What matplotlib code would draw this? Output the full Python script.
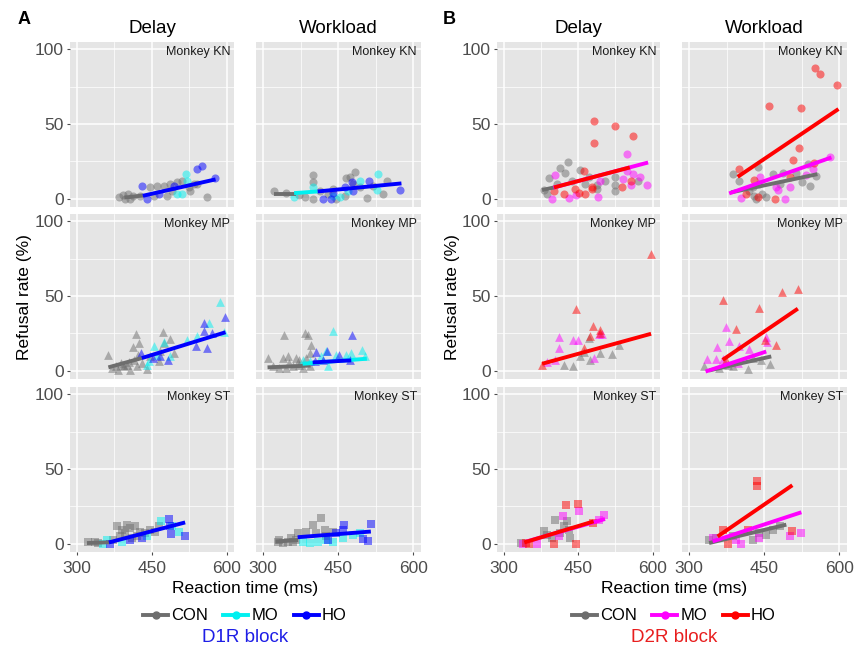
import matplotlib.pyplot as plt
from matplotlib.lines import Line2D

plt.rcParams['font.family'] = ['Liberation Sans', 'DejaVu Sans']

W, H = 856, 649

# ---------------- data (reaction time ms, refusal rate %) ----------------
# Monkey KN, D1R block
a_kn_delay_con_x = [385, 392, 397, 403, 413, 447, 460, 474, 487, 501, 511, 527, 534, 560, 480, 454, 427, 407, 524, 541, 491]
a_kn_delay_con_y = [1, 2.5, 0, 3, 2, 7.6, 8.7, 8.7, 9.8, 11, 12, 5.3, 9.8, 1.5, 2, 2, 2, 0, 7.6, 9.8, 5]
a_kn_delay_mo_x = [518, 521, 501, 511]
a_kn_delay_mo_y = [16.5, 12, 3.1, 3.1]
a_kn_delay_ho_x = [430, 541, 550, 576, 494, 440, 464]
a_kn_delay_ho_y = [8.3, 19.9, 22.1, 13.8, 8.7, 0, 3.1]
a_kn_delay_fit = [('CON', 395, 432, 0.8, 2.2), ('HO', 432, 578, 2, 13)]

a_kn_work_con_x = [399, 399, 322, 346, 372, 383, 399, 413, 429, 440, 466, 473, 483, 480, 493, 507, 520, 540, 547, 463, 446]
a_kn_work_con_y = [15.9, 11.4, 4.9, 4.2, 2.7, 0.9, 0, 5.3, 3.1, 6.5, 13.8, 14.3, 18.1, 9.8, 7.6, 0.4, 8.7, 3.1, 12, 2, 0]
a_kn_work_mo_x = [362, 399, 453, 440, 493, 529, 527, 470]
a_kn_work_mo_y = [0.9, 7.6, 0.9, 2, 12, 16.5, 5.8, 5.3]
a_kn_work_ho_x = [420, 436, 478, 512, 574, 463, 480, 440]
a_kn_work_ho_y = [0, 0, 11, 12, 6.2, 7.6, 4.9, 4.2]
a_kn_work_fit = [('CON', 322, 365, 3.5, 3.5), ('MO', 362, 409, 3.8, 4.9), ('HO', 409, 576, 4.9, 10.3)]

# Monkey KN, D2R block
b_kn_delay_con_x = [391, 414, 429, 424, 407, 454, 471, 487, 504, 524, 524, 524, 487, 571, 381, 387, 437, 464]
b_kn_delay_con_y = [13.8, 20.5, 24.6, 17.6, 9.8, 19.2, 14.3, 9.4, 12, 14.3, 9.4, 4.9, 6.5, 12, 5.8, 3.1, 12, 9.8]
b_kn_delay_mo_x = [549, 404, 397, 431, 446, 489, 541, 556, 574, 589, 549, 561, 494]
b_kn_delay_mo_y = [30, 15.8, 0, 0.4, 2.7, 1.3, 13.2, 9.4, 14.3, 9.1, 18.8, 16.5, 12]
b_kn_delay_ho_x = [482, 482, 525, 561, 461, 477, 451, 464, 444, 421, 401, 539, 557, 477]
b_kn_delay_ho_y = [51.9, 37.3, 49, 41.8, 18.8, 7.6, 4.2, 3.1, 6.5, 3.1, 5.3, 7.6, 12, 6.5]
b_kn_delay_fit = [('CON', 377, 401, 5.8, 7.6), ('MO', 400, 591, 7.5, 24.3), ('HO', 401, 554, 7.6, 21)]

b_kn_work_con_x = [387, 400, 437, 427, 440, 454, 467, 487, 514, 526, 541, 554, 537, 434, 420, 481, 445, 430]
b_kn_work_con_y = [16.5, 12, 21, 7.6, 9.8, 0.9, 16.5, 17.6, 17.6, 11, 8.3, 15.4, 23.2, 0, 5.3, 9.8, 3, 2]
b_kn_work_mo_x = [582, 547, 404, 442, 474, 502, 491, 533, 477]
b_kn_work_mo_y = [27.7, 19.9, 0.4, 14.7, 7.6, 7.6, 0, 16, 5.8]
b_kn_work_ho_x = [551, 562, 596, 459, 524, 519, 507, 400, 430, 437, 471, 414, 501, 549]
b_kn_work_ho_y = [87.4, 83.6, 76.2, 62.2, 60.8, 33.8, 25.9, 19.9, 12.5, 1.3, 0, 3.1, 14.3, 24.3]
b_kn_work_fit = [('CON', 384, 556, 4.3, 16.5), ('MO', 380, 584, 3.6, 27.7), ('HO', 397, 598, 14.7, 60.1)]

# Monkey MP, D1R block
a_mp_delay_con_x = [363, 418, 425, 412, 423, 472, 474, 487, 494, 467, 447, 440, 420, 400, 383, 407, 393, 464, 370, 378, 388, 395, 405, 415, 430]
a_mp_delay_con_y = [10.8, 24.6, 18.6, 15.9, 10.8, 25.8, 18.6, 21.3, 11.9, 13, 9.6, 1.2, 2.9, 4.1, 0.7, 0.7, 4.1, 6.3, 2, 3.5, 5, 3, 6, 7, 5]
a_mp_delay_mo_x = [586, 564, 521, 541, 595, 474, 454, 444, 440, 487, 460]
a_mp_delay_mo_y = [45.9, 32, 20.8, 23.1, 25.8, 19, 16.4, 6.3, 4.1, 9.6, 10.8]
a_mp_delay_ho_x = [554, 597, 554, 571, 538, 561, 429, 452, 482, 467]
a_mp_delay_ho_y = [32, 35.8, 26.4, 25.3, 16.4, 15.2, 11.9, 8.5, 7, 9.6]
a_mp_delay_fit = [('CON', 363, 430, 2.3, 8.5), ('HO', 430, 598, 8.5, 25.8)]

a_mp_work_con_x = [309, 341, 383, 389, 396, 393, 339, 352, 366, 319, 332, 346, 359, 372, 379, 372, 349, 386, 393]
a_mp_work_con_y = [8.5, 23.8, 25.3, 24.2, 17.5, 11.9, 8.5, 5.2, 8.5, 2.9, 1.8, 1.8, 2.9, 4.1, 1.8, 7.4, 9.6, 8.5, 2.9]
a_mp_work_mo_x = [440, 379, 393, 416, 430, 446, 466, 476, 497, 503, 426]
a_mp_work_mo_y = [26.9, 7.4, 6.3, 9.6, 2.9, 10.8, 10.8, 11.9, 14.1, 9.6, 13]
a_mp_work_ho_x = [478, 405, 428, 452, 473, 419, 403]
a_mp_work_ho_y = [24.2, 12.3, 13.4, 10.8, 7, 7.4, 6.3]
a_mp_work_fit = [('CON', 309, 395, 2.3, 3.5), ('MO', 379, 507, 4.7, 8.1), ('HO', 399, 476, 5.6, 7)]

# Monkey MP, D2R block
b_mp_delay_con_x = [421, 439, 471, 453, 474, 494, 519, 533, 461]
b_mp_delay_con_y = [4, 2.9, 21.9, 9.6, 7.3, 11.8, 11.4, 17.4, 12.9]
b_mp_delay_mo_x = [411, 411, 439, 449, 387, 404, 481, 491, 497]
b_mp_delay_mo_y = [22.3, 15.2, 20.8, 20.8, 6.2, 7.3, 8.5, 24.8, 24.8]
b_mp_delay_ho_x = [597, 446, 479, 494, 474, 461, 377, 494]
b_mp_delay_ho_y = [78.2, 41.6, 29.7, 27.5, 23, 15.2, 4, 25.2]
b_mp_delay_fit = [('HO', 377, 597, 4.7, 24.8)]

b_mp_work_con_x = [330, 377, 387, 417, 462, 427, 444, 360]
b_mp_work_con_y = [2.9, 4, 2.9, 1.1, 4.7, 8.5, 7.3, 1.8]
b_mp_work_mo_x = [374, 355, 379, 335, 354, 367, 420, 454, 455, 400, 397]
b_mp_work_mo_y = [29, 15.8, 20.1, 7.8, 7.8, 7.8, 14.5, 22.5, 19.6, 16.3, 5.1]
b_mp_work_ho_x = [368, 394, 439, 486, 517, 452, 474, 374]
b_mp_work_ho_y = [47.2, 28.1, 42, 52.7, 55, 20.3, 17.4, 7.3]
b_mp_work_fit = [('CON', 340, 464, 0.2, 9.6), ('MO', 333, 454, -0.5, 12.9), ('HO', 367, 517, 7.3, 41.6)]

# Monkey ST, D1R block
a_st_delay_con_x = [323, 336, 343, 380, 390, 400, 407, 417, 427, 437, 447, 397, 387, 420, 457, 373, 410, 464]
a_st_delay_con_y = [1.1, 1.5, 0.4, 11.6, 9.4, 12.7, 10.5, 11.6, 8.2, 7.1, 9.4, 7.1, 4.9, 4.9, 8.2, 2.7, 3.8, 11.6]
a_st_delay_mo_x = [353, 468, 504, 390, 440, 490, 360]
a_st_delay_mo_y = [0, 15, 8.2, 1.5, 5.3, 11.6, 2.7]
a_st_delay_ho_x = [484, 489, 487, 516, 366, 430, 407]
a_st_delay_ho_y = [16.5, 6.7, 11.6, 5.3, 0, 3.8, 2.7]
a_st_delay_fit = [('CON', 320, 365, 0.5, 1), ('HO', 364, 517, 0.9, 14.3)]

a_st_work_con_x = [329, 339, 349, 359, 366, 369, 399, 416, 406, 423, 426, 440, 386, 332, 356]
a_st_work_con_y = [1.5, 0.4, 1.5, 0.9, 2.7, 7.1, 12.7, 17.2, 7.1, 9.4, 4.9, 8.2, 8.2, 2.7, 3.8]
a_st_work_mo_x = [379, 393, 440, 426, 480, 493, 460, 409]
a_st_work_mo_y = [1.5, 0.4, 0.9, 2.7, 6, 7.1, 3.8, 1.5]
a_st_work_ho_x = [461, 460, 515, 500, 509, 430, 446]
a_st_work_ho_y = [12.7, 9.4, 13.4, 3.1, 2.2, 2.7, 7.1]
a_st_work_fit = [('CON', 325, 370, 1.5, 2.5), ('HO', 369, 515, 4.4, 8.2)]

# Monkey ST, D2R block
b_st_delay_con_x = [404, 427, 381, 387, 414, 434, 421, 334, 397, 431]
b_st_delay_con_y = [16.1, 15, 8.3, 6, 7.2, 3.8, 11.6, 0.5, 3.8, 9.4]
b_st_delay_mo_x = [419, 452, 502, 367, 339, 411, 491]
b_st_delay_mo_y = [18.4, 21.7, 19.5, 0, 0, 4.9, 16.1]
b_st_delay_ho_x = [425, 450, 401, 446, 351, 479, 344]
b_st_delay_ho_y = [25.7, 26.9, 0, 0, 0, 13.9, 0.5]
b_st_delay_fit = [('MO', 345, 504, 1.5, 16.6), ('HO', 341, 481, 0.9, 15)]

b_st_work_con_x = [340, 354, 427, 454, 467, 481, 440, 387]
b_st_work_con_y = [2.7, 3.8, 2.7, 6, 9.4, 11.6, 7.2, 4.9]
b_st_work_mo_x = [523, 501, 404, 440, 347, 394]
b_st_work_mo_y = [7.2, 5.4, 0, 3.8, 3.8, 2.7]
b_st_work_ho_x = [435, 435, 506, 377, 417, 367]
b_st_work_ho_y = [41.9, 39, 8.7, 0, 9.4, 9.4]
b_st_work_fit = [('CON', 340, 494, 0.5, 12.8), ('MO', 347, 524, 1.6, 21.1), ('HO', 357, 506, 4.9, 39.2)]

monkeys = ['KN', 'MP', 'ST']
markers = {'KN': 'o', 'MP': '^', 'ST': 's'}
msize = {'KN': 34, 'MP': 40, 'ST': 30}
colors_a = {'CON': '#6E6E6E', 'MO': '#00F0F0', 'HO': '#0000FF'}
colors_b = {'CON': '#6E6E6E', 'MO': '#FF00FF', 'HO': '#FF0000'}

g = globals()

# ---------------- layout (pixel boxes) ----------------
rows = [(42, 207), (214, 379), (387, 552)]
cols = {'a': [(70, 234), (256, 421)], 'b': [(497, 660), (682, 847)]}

fig = plt.figure(figsize=(W / 100, H / 100), dpi=100)


def style(ax, left, bottom):
    ax.set_facecolor('#E5E5E5')
    for s in ax.spines.values():
        s.set_visible(False)
    ax.set_xlim(286, 615)
    ax.set_ylim(-5.5, 105)
    ax.set_xticks([300, 450, 600])
    ax.set_xticks([375, 525], minor=True)
    ax.set_yticks([0, 50, 100])
    ax.set_yticks([25, 75], minor=True)
    ax.grid(which='major', color='white', lw=1.1)
    ax.grid(which='minor', color='white', lw=0.5)
    ax.set_axisbelow(True)
    ax.tick_params(which='minor', length=0)
    ax.tick_params(which='major', length=2.5, width=0.8, color='#4D4D4D',
                   labelsize=12.5, labelcolor='#4D4D4D', pad=2)
    ax.tick_params(axis='x', pad=4)
    if not left:
        ax.tick_params(axis='y', left=False, labelleft=False)
    if not bottom:
        ax.tick_params(axis='x', bottom=False, labelbottom=False)


for block, colors in [('a', colors_a), ('b', colors_b)]:
    for r, mk in enumerate(monkeys):
        for c, cond in enumerate(['delay', 'work']):
            x0, x1 = cols[block][c]
            y0, y1 = rows[r]
            ax = fig.add_axes([x0 / W, 1 - y1 / H, (x1 - x0) / W, (y1 - y0) / H])
            style(ax, c == 0, r == 2)
            key = f'{block}_{mk.lower()}_{cond}'
            for grp in ['CON', 'MO', 'HO']:
                xs = g[f'{key}_{grp.lower()}_x']
                ys = g[f'{key}_{grp.lower()}_y']
                ax.scatter(xs, ys, s=msize[mk], marker=markers[mk], color=colors[grp],
                           alpha=0.5, linewidths=0, zorder=3)
            for grp, fx0, fx1, fy0, fy1 in g[f'{key}_fit']:
                ax.plot([fx0, fx1], [fy0, fy1], color=colors[grp], lw=2.8,
                        solid_capstyle='butt', zorder=4)
            ax.text(1 - 4 / (x1 - x0), 1 - 4 / (y1 - y0), f'Monkey {mk}',
                    transform=ax.transAxes, ha='right', va='top', fontsize=9, color='#1A1A1A')
            if r == 0:
                ax.set_title('Delay' if cond == 'delay' else 'Workload', fontsize=13.5, pad=6.5)

# ---------------- labels & legends ----------------
fig.text(24 / W, 1 - 19 / H, 'A', fontsize=13, fontweight='bold', ha='center', va='center')
fig.text(449 / W, 1 - 19 / H, 'B', fontsize=13, fontweight='bold', ha='center', va='center')

for xc in [25, 452]:
    fig.text(xc / W, 1 - 297 / H, 'Refusal rate (%)', rotation=90, fontsize=12.5,
             ha='center', va='center')

for xc, colors, blk, bcol in [(245, colors_a, 'D1R block', '#1E1EE6'),
                              (674, colors_b, 'D2R block', '#E81E1E')]:
    fig.text(xc / W, 1 - 589 / H, 'Reaction time (ms)', fontsize=12.5, ha='center', va='center')
    handles = [Line2D([], [], color=colors[grp], lw=2.8, marker='o', markersize=5)
               for grp in ['CON', 'MO', 'HO']]
    fig.legend(handles, ['CON', 'MO', 'HO'], loc='center', bbox_to_anchor=(xc / W, 1 - 616 / H),
               ncol=3, frameon=False, fontsize=12, handlelength=1.5, handletextpad=0.2,
               columnspacing=0.9, borderpad=0)
    fig.text(xc / W, 1 - 638 / H, blk, fontsize=13.5, color=bcol, ha='center', va='center')

fig.savefig('out.png', dpi=100)
